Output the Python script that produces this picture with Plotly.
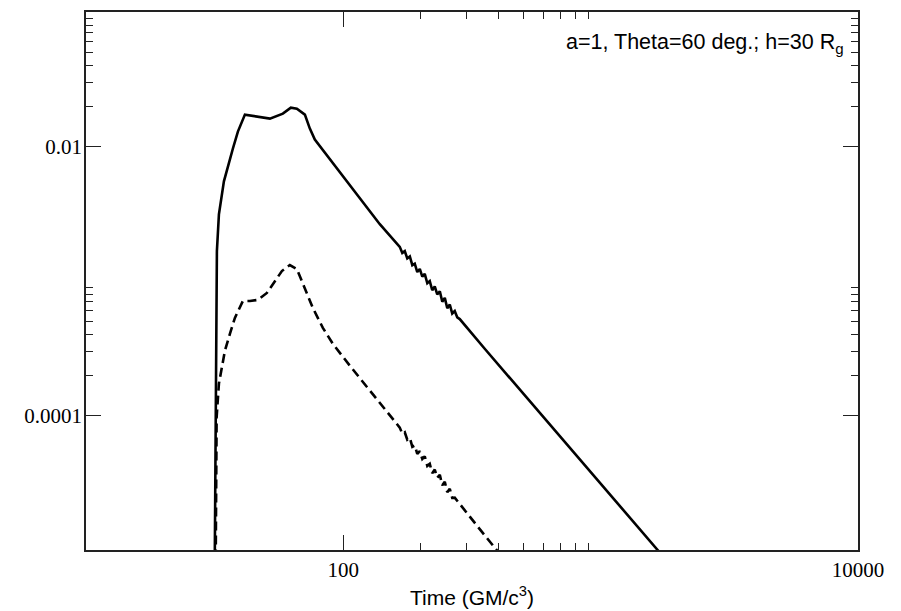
import plotly.graph_objects as go

# Solid curve (total) : time (GM/c^3) and flux
solid_t = [31.41, 32.26, 32.85, 34.35, 37.23, 38.93, 41.45, 46.56, 51.84, 58.21,
           62.53, 65.99, 70.88, 74.12, 77.49, 112.8, 138.6,
           165.7, 169.5, 173.3, 177.2, 181.3, 185.4, 189.5, 193.8, 198.2, 202.7,
           207.2, 212.0, 216.7, 221.6, 226.6, 231.7, 237.1, 242.4, 247.9, 253.5,
           259.2, 265.0, 271.0, 277.2, 283.4,
           354.4, 1665.0, 1854.0]
solid_f = [1e-6, 1.668e-3, 3.135e-3, 5.504e-3, 9.665e-3, 1.2915e-2, 1.726e-2, 1.668e-2,
           1.612e-2, 1.755e-2, 1.945e-2, 1.912e-2, 1.726e-2, 1.359e-2, 1.127e-2,
           4.41e-3, 2.644e-3,
           1.794e-3, 1.618e-3, 1.667e-3, 1.472e-3, 1.523e-3, 1.311e-3, 1.345e-3,
           1.166e-3, 1.229e-3, 1.078e-3, 1.131e-3, 9.627e-4, 9.988e-4, 8.538e-4,
           9.108e-4, 7.951e-4, 8.381e-4, 7.019e-4, 7.486e-4, 6.269e-4, 6.687e-4,
           5.730e-4, 5.972e-4, 5.358e-4, 5.212e-4,
           3.135e-4, 1.0e-5, 7.87e-6]

# Dashed curve
dash_t = [31.7, 32.18, 32.85, 34.66, 36.24, 37.90, 40.71, 43.35, 46.56, 50.46,
          57.70, 61.97, 65.99, 69.62, 76.12, 83.25, 91.04, 105.98, 121.2, 138.6,
          165.7, 169.5, 173.3, 177.2, 181.3, 185.4, 189.5, 193.8, 198.2, 202.7,
          207.2, 212.0, 216.7, 221.6, 226.6, 231.7, 237.1, 242.4, 247.9, 253.5,
          259.2, 265.0, 271.0,
          338.9, 394.6, 423.8]
dash_f = [1e-6, 9.665e-5, 1.726e-4, 3.030e-4, 4.049e-4, 5.318e-4, 7.109e-4, 7.109e-4,
          7.232e-4, 8.150e-4, 1.186e-3, 1.314e-3, 1.227e-3, 9.502e-4, 6.310e-4,
          4.486e-4, 3.415e-4, 2.346e-4, 1.697e-4, 1.227e-4,
          8.133e-5, 7.310e-5, 7.509e-5, 6.610e-5, 6.822e-5, 5.855e-5, 5.987e-5,
          5.175e-5, 5.440e-5, 4.756e-5, 4.977e-5, 4.222e-5, 4.368e-5, 3.723e-5,
          3.960e-5, 3.445e-5, 3.622e-5, 3.024e-5, 3.216e-5, 2.685e-5, 2.855e-5,
          2.439e-5, 2.448e-5,
          1.430e-5, 1.0e-5, 8.43e-6]

x_major = [100, 10000]
x_major_text = ["100", "10000"]
x_minor = [200, 300, 400, 500, 600, 700, 800, 900]
y_major = [1e-4, 1e-2]
y_major_text = ["0.0001", "0.01"]
y_minor = [2e-4, 3e-4, 4e-4, 5e-4, 6e-4, 7e-4, 8e-4, 9e-4,
           0.02, 0.03, 0.04, 0.05, 0.06, 0.07, 0.08, 0.09]

annotation_text = "a=1, Theta=60 deg.; h=30 R<sub>g</sub>"
x_title = "Time (GM/c<sup>3</sup>)"

serif = "Liberation Serif, Times New Roman, serif"
sans = "Liberation Sans, Arial, Helvetica, sans-serif"
axcol = "#222222"

fig = go.Figure()
fig.add_trace(go.Scatter(x=solid_t, y=solid_f, mode="lines",
                         line=dict(color="black", width=2.6), showlegend=False))
fig.add_trace(go.Scatter(x=dash_t, y=dash_f, mode="lines",
                         line=dict(color="black", width=2.6, dash="9px,5px"),
                         showlegend=False))

common = dict(type="log", showgrid=False, zeroline=False, showline=True,
              linecolor=axcol, linewidth=1.5, mirror="ticks", ticks="inside",
              ticklen=15, tickwidth=1.3, tickcolor=axcol,
              tickfont=dict(family=serif, size=21, color="black"))

fig.update_xaxes(range=[1, 4], tickmode="array", tickvals=x_major, ticktext=x_major_text,
                 minor=dict(tickmode="array", tickvals=x_minor, ticks="inside",
                            ticklen=7, tickwidth=1.3, tickcolor=axcol),
                 title=dict(text=x_title, font=dict(family=sans, size=21, color="black"),
                            standoff=9),
                 **common)
fig.update_yaxes(range=[-5, -1], tickmode="array", tickvals=y_major, ticktext=y_major_text,
                 minor=dict(tickmode="array", tickvals=y_minor, ticks="inside",
                            ticklen=7, tickwidth=1.3, tickcolor=axcol),
                 ticklabelstandoff=-2,
                 **common)

fig.add_annotation(text=annotation_text, xref="paper", yref="paper", x=1, y=1,
                   xanchor="right", yanchor="top", xshift=-12, yshift=-16,
                   showarrow=False, font=dict(family=sans, size=21.5, color="black"))

# page body has an 8px margin; size the figure so the plot area lands where the reference has it
fig.update_layout(width=893, height=603, margin=dict(l=78, r=43, t=2, b=61),
                  plot_bgcolor="white", paper_bgcolor="white")

fig.write_html("out.html")
